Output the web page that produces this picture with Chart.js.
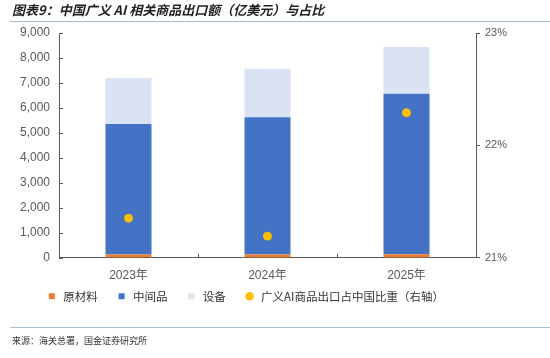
<!DOCTYPE html>
<html>
<head>
<meta charset="utf-8">
<script src="https://cdn.jsdelivr.net/npm/chart.js@4.4.1/dist/chart.umd.min.js"></script>
<style>
  html, body { margin: 0; padding: 0; background: #fff; }
  #wrap { position: relative; width: 550px; height: 358px; overflow: hidden; }
  #c { position: absolute; left: 0; top: 0; }
  .title { position: absolute; left: 12px; top: 0px; font-family: "Noto Sans CJK SC", sans-serif; font-size: 13px; font-weight: bold; font-style: italic; color: #1f1f1f; white-space: nowrap; }
  .rule { position: absolute; left: 10px; right: 0; height: 1px; background: #a7bdd3; }
  .source { position: absolute; left: 12px; top: 334px; font-family: "Noto Sans CJK SC", sans-serif; font-size: 9px; color: #333; white-space: nowrap; }
</style>
</head>
<body>
<div id="wrap">
  <canvas id="c" width="550" height="358"></canvas>
  <div class="title">图表9：中国广义 AI 相关商品出口额（亿美元）与占比</div>
  <div class="rule" style="top:21px"></div>
  <div class="rule" style="top:327px"></div>
  <div class="source">来源：海关总署，国金证券研究所</div>
</div>
<script>
const categories = ["2023年", "2024年", "2025年"];
const rawMaterials = [120, 120, 130];
const intermediates = [5230, 5500, 6430];
const equipment = [1850, 1950, 1880];
const shareOfChina = [21.35, 21.19, 22.29];
const seriesNames = ["原材料", "中间品", "设备", "广义AI商品出口占中国比重（右轴）"];

const axisColor = "#595959";
const labelColor = "#595959";

const innerTicks = {
  id: "innerTicks",
  afterDraw(chart) {
    const ctx = chart.ctx;
    const y = chart.scales.y, x = chart.scales.x;
    const area = chart.chartArea;
    ctx.save();
    ctx.strokeStyle = axisColor;
    ctx.lineWidth = 1;
    ctx.beginPath();
    y.ticks.forEach(t => {
      const py = Math.round(y.getPixelForValue(t.value)) + 0.5;
      ctx.moveTo(area.left, py);
      ctx.lineTo(area.left + 4, py);
    });
    for (let i = 0; i < categories.length - 1; i++) {
      const px = Math.round((x.getPixelForValue(i) + x.getPixelForValue(i + 1)) / 2) + 0.5;
      ctx.moveTo(px, area.bottom);
      ctx.lineTo(px, area.bottom - 4);
    }
    ctx.stroke();
    ctx.restore();
  }
};

const shiftLegend = {
  id: "shiftLegend",
  afterLayout(chart) {
    const lg = chart.legend;
    if (lg) { lg.left -= 30; lg.right -= 30; lg.top -= 15; lg.bottom -= 15; }
  }
};

new Chart(document.getElementById("c"), {
  data: {
    labels: categories,
    datasets: [
      { type: "bar", label: seriesNames[0], data: rawMaterials, backgroundColor: "#ED7D31", yAxisID: "y", stack: "s", order: 1 },
      { type: "bar", label: seriesNames[1], data: intermediates, backgroundColor: "#4472C4", yAxisID: "y", stack: "s", order: 1 },
      { type: "bar", label: seriesNames[2], data: equipment, backgroundColor: "#DAE3F3", yAxisID: "y", stack: "s", order: 1 },
      { type: "line", label: seriesNames[3], data: shareOfChina, yAxisID: "y1", showLine: false,
        pointRadius: 4, pointHoverRadius: 4, pointBackgroundColor: "#FFC000", pointBorderColor: "#FFC000",
        backgroundColor: "#FFC000", borderColor: "#FFC000", pointStyle: "circle", order: 0 }
    ]
  },
  options: {
    responsive: false,
    animation: false,
    devicePixelRatio: 1,
    layout: { padding: { top: 33, left: 0, right: 0, bottom: 31 } },
    datasets: { bar: { barPercentage: 0.331, categoryPercentage: 1.0 } },
    plugins: {
      tooltip: { enabled: false },
      title: { display: false },
      legend: {
        position: "bottom",
        labels: {
          usePointStyle: true,
          boxWidth: 12,
          boxHeight: 6,
          padding: 18,
          color: "#333",
          font: { family: "'Noto Sans CJK SC', sans-serif", size: 11.5 },
          sort: (a, b) => a.datasetIndex - b.datasetIndex,
          generateLabels(chart) {
            const items = Chart.defaults.plugins.legend.labels.generateLabels(chart);
            items.forEach(it => {
              it.pointStyle = it.datasetIndex === 3 ? "circle" : "rect";
              it.lineWidth = 0;
              it.strokeStyle = "rgba(0,0,0,0)";
            });
            return items;
          }
        }
      }
    },
    scales: {
      x: {
        offset: true,
        grid: { display: false, drawTicks: false },
        border: { display: true, color: axisColor, width: 1 },
        ticks: { color: labelColor, padding: 11, font: { family: "'Liberation Sans', 'Noto Sans CJK SC', sans-serif", size: 12 } },
        afterFit(s) { s.height = 30; }
      },
      y: {
        position: "left",
        min: 0, max: 9000,
        ticks: { stepSize: 1000, color: labelColor, padding: 9,
          font: { family: "'Liberation Sans', sans-serif", size: 12 },
          callback: v => v.toLocaleString("en-US") },
        grid: { display: false, drawTicks: false },
        border: { display: true, color: axisColor, width: 1 },
        afterFit(s) { s.width = 59; }
      },
      y1: {
        position: "right",
        min: 21, max: 23,
        ticks: { stepSize: 1, color: labelColor, padding: 5,
          font: { family: "'Liberation Sans', sans-serif", size: 11 },
          callback: v => v + "%" },
        grid: { display: true, drawOnChartArea: false, drawTicks: true, tickLength: 4, color: axisColor },
        border: { display: true, color: axisColor, width: 1 },
        afterFit(s) { s.width = 74; }
      }
    }
  },
  plugins: [innerTicks, shiftLegend]
});
</script>
</body>
</html>
